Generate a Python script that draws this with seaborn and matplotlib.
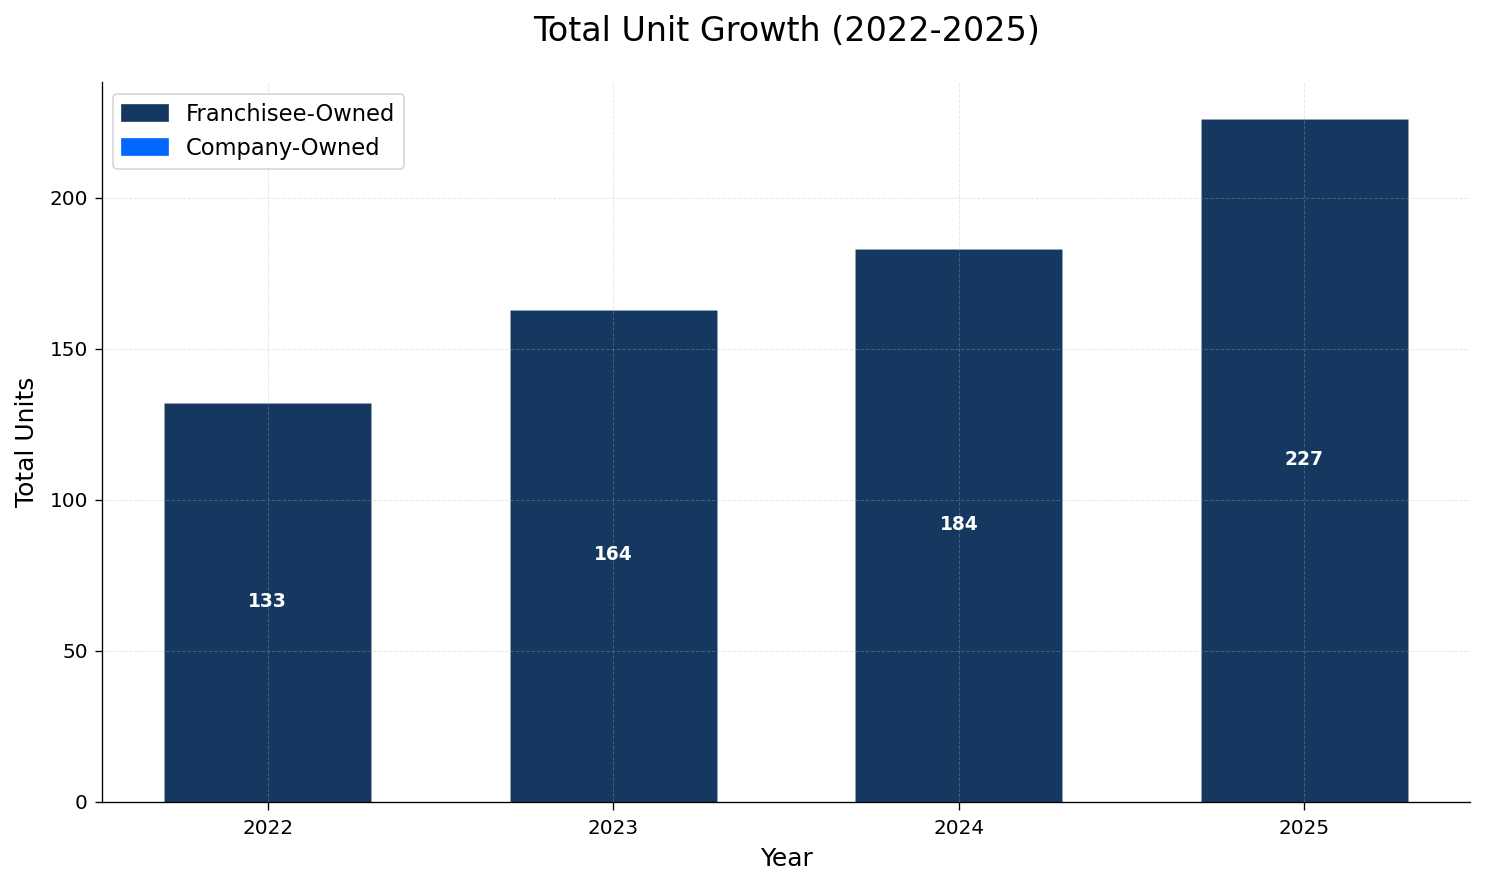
import numpy as np
import pandas as pd
import matplotlib
matplotlib.use("Agg")
import matplotlib.pyplot as plt
import seaborn as sns
from matplotlib.patches import Patch

# Data
years = ["2022", "2023", "2024", "2025"]
franchisee_units = [132, 163, 183, 226]
company_units = [0, 0, 0, 0]
total_labels = [133, 164, 184, 227]

franchisee_color = "#14385f"
company_color = "#0066ff"

plt.rcParams['font.family'] = ['DejaVu Sans']

df = pd.DataFrame({"Year": years, "Franchisee": franchisee_units, "Company": company_units})

fig, ax = plt.subplots(figsize=(12.375, 7.3667), dpi=120)

sns.barplot(data=df, x="Year", y="Franchisee", color=franchisee_color, width=0.6,
            saturation=1, ax=ax, edgecolor=(1, 1, 1, 0.1), linewidth=0.4)
ax.bar(np.arange(len(years)), df["Company"], bottom=df["Franchisee"], width=0.6,
       color=company_color)

# labels show the stacked total in the middle of each bar
for i, t in enumerate(total_labels):
    ax.text(i, t / 2, str(t), ha="center", va="center", color="white",
            fontsize=11.2, fontweight="bold")

ax.set_ylim(0, max(total_labels) * 1.05)
ax.grid(True, linestyle="--", linewidth=0.6, color="#b0b0b0", alpha=0.3)
ax.set_axisbelow(False)
sns.despine(ax=ax)
ax.tick_params(axis="x", labelsize=12, pad=6, length=4.5)
ax.tick_params(axis="y", labelsize=12, pad=4, length=4.5)

ax.set_title("Total Unit Growth (2022-2025)", fontsize=20, pad=25)
ax.set_xlabel("Year", fontsize=15, labelpad=5)
ax.set_ylabel("Total Units", fontsize=15, labelpad=6)

handles = [Patch(color=franchisee_color, label="Franchisee-Owned"),
           Patch(color=company_color, label="Company-Owned")]
ax.legend(handles=handles, loc="upper left", fontsize=13.6, frameon=True)

fig.subplots_adjust(left=0.0687, right=0.99, top=0.907, bottom=0.093)
fig.savefig("out.png", dpi=120)
